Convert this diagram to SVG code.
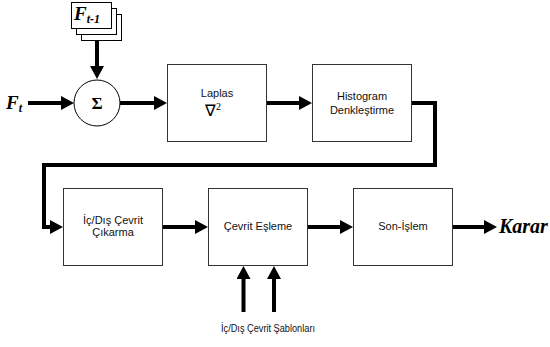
<svg xmlns="http://www.w3.org/2000/svg" width="550" height="347" viewBox="0 0 550 347">
<defs>
<style>
.box{fill:#fff;stroke:#333;stroke-width:1}
.card{fill:#fff;stroke:#000;stroke-width:1}
.t{font-family:"Liberation Sans",Arial,sans-serif;font-size:11px;fill:#111;text-anchor:middle}
.t9{font-size:10px}
.s{font-family:"Liberation Serif","Times New Roman",serif;fill:#000}
.bi{font-weight:bold;font-style:italic}
.c{fill:none;stroke:#000;stroke-width:4}
</style>
<marker id="ah" viewBox="0 0 13 14" markerWidth="13" markerHeight="14" markerUnits="userSpaceOnUse" refX="4" refY="7" orient="auto">
<path d="M0,0 L13,7 L0,14 z" fill="#000"/>
</marker>
</defs>
<rect width="550" height="347" fill="#fff"/>

<g id="connectors">
<line class="c" x1="97" y1="41" x2="97" y2="70" marker-end="url(#ah)"/>
<line class="c" x1="28" y1="103" x2="65" y2="103" marker-end="url(#ah)"/>
<line class="c" x1="120" y1="103" x2="158" y2="103" marker-end="url(#ah)"/>
<line class="c" x1="266" y1="103" x2="303" y2="103" marker-end="url(#ah)"/>
<polyline class="c" points="411,103 435,103 435,165 44,165 44,227 54,227" marker-end="url(#ah)"/>
<line class="c" x1="163" y1="227" x2="199" y2="227" marker-end="url(#ah)"/>
<line class="c" x1="307" y1="227" x2="344" y2="227" marker-end="url(#ah)"/>
<line class="c" x1="452" y1="227" x2="488" y2="227" marker-end="url(#ah)"/>
<line class="c" x1="243.5" y1="312" x2="243.5" y2="275" marker-end="url(#ah)"/>
<line class="c" x1="274" y1="312" x2="274" y2="275" marker-end="url(#ah)"/>
</g>

<g id="prev-frames">
<rect class="card" x="81.5" y="14.5" width="40" height="26"/>
<rect class="card" x="76.5" y="8.5" width="40" height="26"/>
<rect class="card" x="71.5" y="2.5" width="40" height="26"/>
<text class="s bi" x="74" y="20" font-size="19">F<tspan font-size="12" dy="3">t-1</tspan></text>
</g>

<g id="current-frame">
<text class="s bi" x="6" y="109" font-size="19">F<tspan font-size="12" dy="3">t</tspan></text>
</g>

<g id="sum">
<circle cx="97" cy="103" r="23" fill="#fff" stroke="#000" stroke-width="1"/>
<text class="s" x="97" y="109" font-size="17" font-weight="bold" text-anchor="middle">Σ</text>
</g>

<g id="laplas">
<rect class="box" x="167.5" y="64.5" width="99" height="77"/>
<text class="t" x="217" y="97">Laplas</text>
<text class="s" x="213" y="116" font-size="16" text-anchor="middle">∇<tspan font-size="10" dy="-6">2</tspan></text>
</g>

<g id="histogram">
<rect class="box" x="312.5" y="64.5" width="99" height="77"/>
<text class="t" x="362" y="100">Histogram</text>
<text class="t" x="362" y="114">Denkleştirme</text>
</g>

<g id="cevrit-cikarma">
<rect class="box" x="63.5" y="188.5" width="99" height="77"/>
<text class="t" x="113" y="224">İç/Dış Çevrit</text>
<text class="t" x="113" y="236">Çıkarma</text>
</g>

<g id="cevrit-esleme">
<rect class="box" x="208.5" y="188.5" width="99" height="77"/>
<text class="t" x="258" y="230">Çevrit Eşleme</text>
</g>

<g id="son-islem">
<rect class="box" x="353.5" y="188.5" width="99" height="77"/>
<text class="t" x="403" y="230">Son-İşlem</text>
</g>

<g id="karar">
<text class="s bi" x="499" y="233" font-size="20">Karar</text>
</g>

<g id="sablonlar">
<text class="t t9" x="268" y="332" textLength="94" lengthAdjust="spacingAndGlyphs">İç/Dış Çevrit Şablonları</text>
</g>
</svg>
